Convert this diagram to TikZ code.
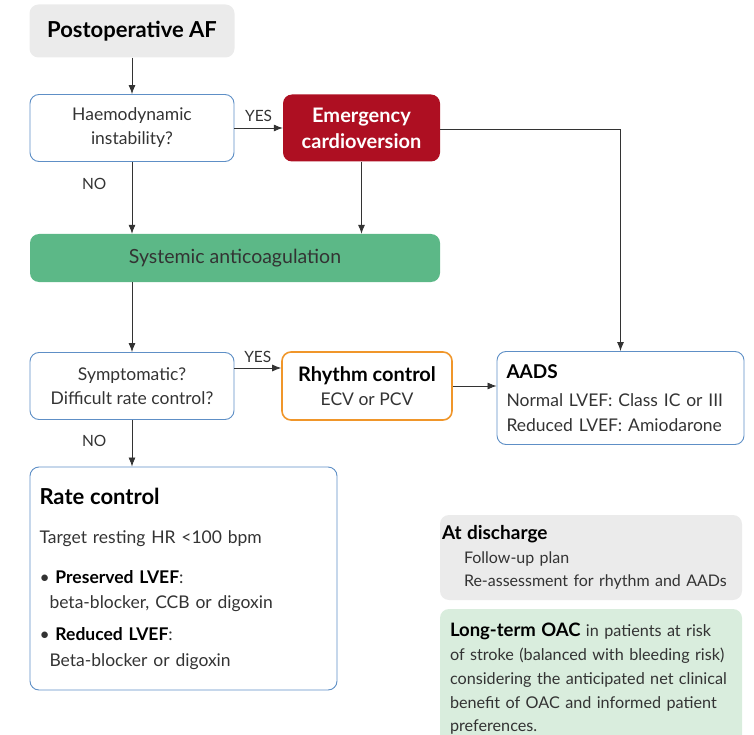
\documentclass[tikz,border=0pt]{standalone}
\usepackage{fontspec}
\setmainfont{Lato}
\usetikzlibrary{positioning,arrows.meta}
\definecolor{qblue}{HTML}{5E8FC6}
\definecolor{qred}{HTML}{AE0F22}
\definecolor{qgreen}{HTML}{5CB887}
\definecolor{qpale}{HTML}{D9EDDD}
\definecolor{qgrey}{HTML}{EBEBEB}
\definecolor{qorange}{HTML}{F0962A}
\definecolor{qtext}{HTML}{333333}

\begin{document}
\begin{tikzpicture}[x=1pt, y=-1pt, font=\fontsize{17.5}{24}\selectfont, text=qtext,
  box/.style={rounded corners=9pt, align=center, inner sep=2pt},
  ask/.style={box, draw=qblue, line width=0.9pt, minimum width=204pt, minimum height=67pt},
  arr/.style={-{Latex[length=9pt, width=7pt]}, line width=0.8pt, draw=qtext},
  lbl/.style={font=\fontsize{15.5}{17}\selectfont}]
\useasboundingbox (0,0) rectangle (754,735);
\begin{scope}
\clip (0,0) rectangle (754,735);
\node[box, fill=qgrey, minimum width=205pt, minimum height=53pt, font=\fontsize{22}{26}\selectfont\bfseries, text=black] (postop) at (132,31) {Postoperative AF};
\node[ask] (haemo) at (132,128) {Haemodynamic\\instability?};
\node[box, fill=qred, minimum width=157pt, minimum height=67pt, font=\fontsize{20}{26}\selectfont\bfseries, text=white] (emerg) at (361.5,128) {Emergency\\cardioversion};
\node[box, fill=qgreen, minimum width=410pt, minimum height=48pt, font=\fontsize{19.5}{24}\selectfont, text=black!80] (anti) at (235,258) {Systemic anticoagulation};
\node[ask] (sympt) at (132,386) {Symptomatic?\\Difficult rate control?};
\node[box, draw=qorange, line width=1.6pt, minimum width=170pt, minimum height=68pt] (rhythm) at (367,386) {{\fontsize{20}{24}\selectfont\bfseries\color{black}Rhythm control}\\ECV or PCV};
\node[box, draw=qblue, line width=0.9pt, minimum width=247pt, minimum height=93pt, align=left, text width=228pt, font=\fontsize{17.5}{25}\selectfont] (aads) at (620.5,398) {{\fontsize{19}{24}\selectfont\bfseries\color{black}AADS}\\[3pt]Normal LVEF: Class IC or III\\Reduced LVEF: Amiodarone};
\node[box, draw=qblue, line width=0.9pt, minimum width=307pt, minimum height=223pt, align=left, text width=288pt, font=\fontsize{17.5}{25.5}\selectfont] (rate) at (183.5,578.5) {{\fontsize{22}{26}\selectfont\bfseries\color{black}Rate control}\\[14pt]Target resting HR <100 bpm\\[14pt]\textbullet\ {\bfseries\color{black}Preserved LVEF}:\\\hspace*{10pt}beta-blocker, CCB or digoxin\\[6.5pt]\textbullet\ {\bfseries\color{black}Reduced LVEF}:\\\hspace*{10pt}Beta-blocker or digoxin};
\node[box, fill=qgrey, minimum width=302pt, minimum height=85pt, align=left, text width=298pt, font=\fontsize{16}{23.5}\selectfont] (disch) at (591,557.5) {{\fontsize{19}{23}\selectfont\bfseries\color{black}At discharge}\\\hspace*{22pt}Follow-up plan\\\hspace*{22pt}Re-assessment for rhythm and AADs};
\node[box, fill=qpale, minimum width=302pt, minimum height=140pt, align=left, text width=282pt, font=\fontsize{16.2}{23.8}\selectfont] (oac) at (591,679) {{\fontsize{18.5}{23}\selectfont\bfseries\color{black}Long-term OAC} in patients at risk\\of stroke (balanced with bleeding risk)\\considering the anticipated net clinical\\benefit of OAC and informed patient\\preferences.\\[4pt]};
\end{scope}
\draw[arr] (postop) -- (haemo);
\draw[arr] (haemo) -- node[lbl, above=3pt] {YES} (emerg);
\draw[arr] (haemo) -- node[lbl, pos=0.3, left=22pt] {NO} (haemo |- anti.north);
\draw[arr] (emerg) -- (emerg |- anti.north);
\draw[arr] (emerg.east) ++(0,1) -| (aads.north);
\draw[arr] (anti.south -| sympt) -- (sympt);
\draw[arr] (sympt.east) ++(0,-18) coordinate (ys) -- node[lbl, above=2pt] {YES} (ys -| rhythm.west);
\draw[arr] (sympt) -- node[lbl, pos=0.45, left=22pt] {NO} (sympt |- rate.north);
\draw[arr] (rhythm) -- (rhythm -| aads.west);
\end{tikzpicture}
\end{document}
